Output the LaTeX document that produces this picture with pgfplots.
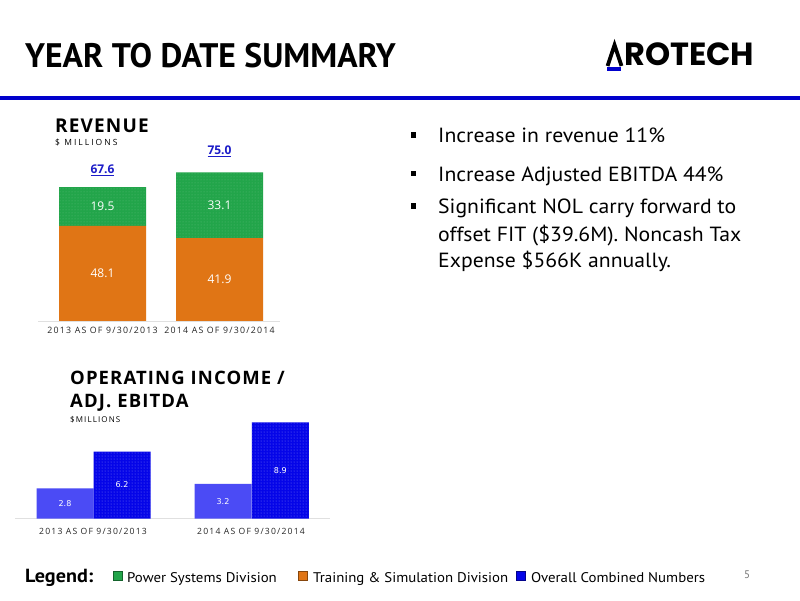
\documentclass[border=0pt]{standalone}
\usepackage{fontspec}
\usepackage{pgfplots}
\pgfplotsset{compat=1.18}
\usetikzlibrary{patterns}
\setmainfont{PT Sans}
\newfontfamily\titlefont[FakeStretch=0.99]{PT Sans}
\newfontfamily\wide[FakeStretch=1.06]{PT Sans}
\newfontfamily\logofont{Poppins}
\newfontfamily\os{Open Sans}
\newfontfamily\osls[LetterSpace=14]{Open Sans}
\newfontfamily\osmil[LetterSpace=24]{Open Sans}
\newfontfamily\oshead[LetterSpace=6]{Open Sans}
\newfontfamily\dv{DejaVu Sans}
\definecolor{rgreen}{HTML}{22A54A}
\definecolor{rorange}{HTML}{E07515}
\definecolor{lblue}{HTML}{4B4BF5}
\definecolor{dblue}{HTML}{0505E8}
\definecolor{tblue}{HTML}{1C1CC8}
\definecolor{rulec}{HTML}{0000CC}
\begin{document}
\begin{tikzpicture}[x=1pt,y=1pt]
\useasboundingbox[fill=white] (0,0) rectangle (800,600);
% title
\node[anchor=base west, inner sep=0] at (25,532) {\titlefont\bfseries\fontsize{34}{34}\selectfont YEAR TO DATE SUMMARY};
\fill[rulec] (0,500) rectangle (800,504);
% logo
\draw[line width=3.8pt, line join=miter] (607.5,534) -- (614.5,555) -- (621.5,534);
\fill[rulec] (607,529) rectangle (621,533);
\node[anchor=base west, inner sep=0] at (624,534) {\logofont\bfseries\fontsize{32}{32}\selectfont ROTECH};
% revenue heading
\node[anchor=base west, inner sep=0] at (55,467) {\oshead\bfseries\fontsize{19}{19}\selectfont REVENUE};
\node[anchor=base west, inner sep=0] at (55,454) {\osmil\fontsize{8.5}{9}\selectfont \$ MILLIONS};
% revenue chart
\begin{axis}[at={(38pt,279pt)}, anchor=south west, scale only axis,
  width=242pt, height=158.4pt, xmin=38, xmax=280, ymin=0, ymax=80,
  axis y line=none, axis x line*=bottom,
  x axis line style={draw=black!12, line width=0.8pt, -},
  xtick={102.5,219.5},
  xticklabels={2013 AS OF 9/30/2013, 2014 AS OF 9/30/2014},
  major tick length=0pt,
  xticklabel style={font=\osls\fontsize{8.8}{9}\selectfont, text=black!85, yshift=-3pt},
  ybar stacked, bar width=87, clip=false]
\addplot[fill=rorange, draw=none] coordinates {(102.5,48.1) (219.5,41.9)};
\addplot[fill=rgreen, draw=none, postaction={pattern=dots, pattern color=rgreen!75!white}] coordinates {(102.5,19.5) (219.5,33.1)};
\coordinate (r1) at (axis cs:102.5,24.05);
\coordinate (r2) at (axis cs:219.5,20.95);
\coordinate (r3) at (axis cs:102.5,57.85);
\coordinate (r4) at (axis cs:219.5,58.45);
\coordinate (t1) at (axis cs:102.5,67.6);
\coordinate (t2) at (axis cs:219.5,75.0);
\end{axis}
\node[white, font=\os\fontsize{12}{12}\selectfont] at (r1) {48.1};
\node[white, font=\os\fontsize{12}{12}\selectfont] at (r2) {41.9};
\node[white, font=\os\fontsize{12}{12}\selectfont] at (r3) {19.5};
\node[white, font=\os\fontsize{12}{12}\selectfont] at (r4) {33.1};
\node[anchor=south, tblue, font=\os\bfseries\fontsize{12}{12}\selectfont, yshift=8pt] at (t1) {\underline{67.6}};
\node[anchor=south, tblue, font=\os\bfseries\fontsize{12}{12}\selectfont, yshift=12pt] at (t2) {\underline{75.0}};
% operating income heading
\node[anchor=base west, inner sep=0] at (70,215) {\oshead\bfseries\fontsize{18.5}{20}\selectfont OPERATING INCOME /};
\node[anchor=base west, inner sep=0] at (70,192) {\oshead\bfseries\fontsize{18.5}{20}\selectfont ADJ. EBITDA};
\node[anchor=base west, inner sep=0] at (70,177) {\osls\fontsize{8}{8}\selectfont \$MILLIONS};
\begin{axis}[at={(15pt,81.5pt)}, anchor=south west, scale only axis,
  width=315pt, height=108pt, xmin=15, xmax=330, ymin=0, ymax=10,
  axis y line=none, axis x line*=bottom,
  x axis line style={draw=black!12, line width=0.8pt, -},
  xtick={93,251},
  xticklabels={2013 AS OF 9/30/2013, 2014 AS OF 9/30/2014},
  major tick length=0pt,
  xticklabel style={font=\osls\fontsize{8.6}{9}\selectfont, text=black!85, yshift=-6pt},
  clip=false]
\addplot[ybar, bar shift=0pt, bar width=57, fill=lblue, draw=none] coordinates {(65,2.8) (223,3.2)};
\addplot[ybar, bar shift=0pt, bar width=57, fill=dblue, draw=none, postaction={pattern=dots, pattern color=dblue!55!white}] coordinates {(122,6.2) (280.3,8.9)};
\coordinate (o1) at (axis cs:65,1.4);
\coordinate (o2) at (axis cs:122,3.1);
\coordinate (o3) at (axis cs:223,1.6);
\coordinate (o4) at (axis cs:280.3,4.45);
\end{axis}
\node[white, font=\dv\fontsize{8}{8}\selectfont] at (o1) {2.8};
\node[white, font=\dv\fontsize{8}{8}\selectfont] at (o2) {6.2};
\node[white, font=\dv\fontsize{8}{8}\selectfont] at (o3) {3.2};
\node[white, font=\dv\fontsize{8}{8}\selectfont] at (o4) {8.9};
% bullets
\foreach \y in {465,426.3,394} {\fill (410.5,\y-2.7) rectangle (416,\y+2.7);}
\node[anchor=base west, inner sep=0] at (438,457) {\wide\fontsize{20.5}{20}\selectfont Increase in revenue 11\%};
\node[anchor=base west, inner sep=0] at (438,418.3) {\wide\fontsize{20.5}{20}\selectfont Increase Adjusted EBITDA 44\%};
\node[anchor=base west, inner sep=0] at (438,386) {\wide\fontsize{20.5}{20}\selectfont Significant NOL carry forward to};
\node[anchor=base west, inner sep=0] at (438,358.3) {\wide\fontsize{20.5}{20}\selectfont offset FIT (\$39.6M). Noncash Tax};
\node[anchor=base west, inner sep=0] at (438,332) {\wide\fontsize{20.5}{20}\selectfont Expense \$566K annually.};
% legend
\node[anchor=base west, inner sep=0] at (25,18) {\wide\bfseries\fontsize{19}{19}\selectfont Legend:};
\filldraw[fill=rgreen, draw=rgreen!60!black] (113,20) rectangle (122,29);
\node[anchor=base west, inner sep=0] at (127,18) {\wide\fontsize{14}{14}\selectfont Power Systems Division};
\filldraw[fill=rorange, draw=rorange!60!black] (298,20) rectangle (307,29);
\node[anchor=base west, inner sep=0] at (313,18) {\wide\fontsize{14}{14}\selectfont Training \& Simulation Division};
\filldraw[fill=dblue, draw=dblue!60!black] (516,20) rectangle (525,29);
\node[anchor=base west, inner sep=0] at (531,18) {\wide\fontsize{14}{14}\selectfont Overall Combined Numbers};
\node[anchor=base west, inner sep=0, text=black!55] at (744,22) {\fontsize{11}{11}\selectfont 5};
\end{tikzpicture}
\end{document}
